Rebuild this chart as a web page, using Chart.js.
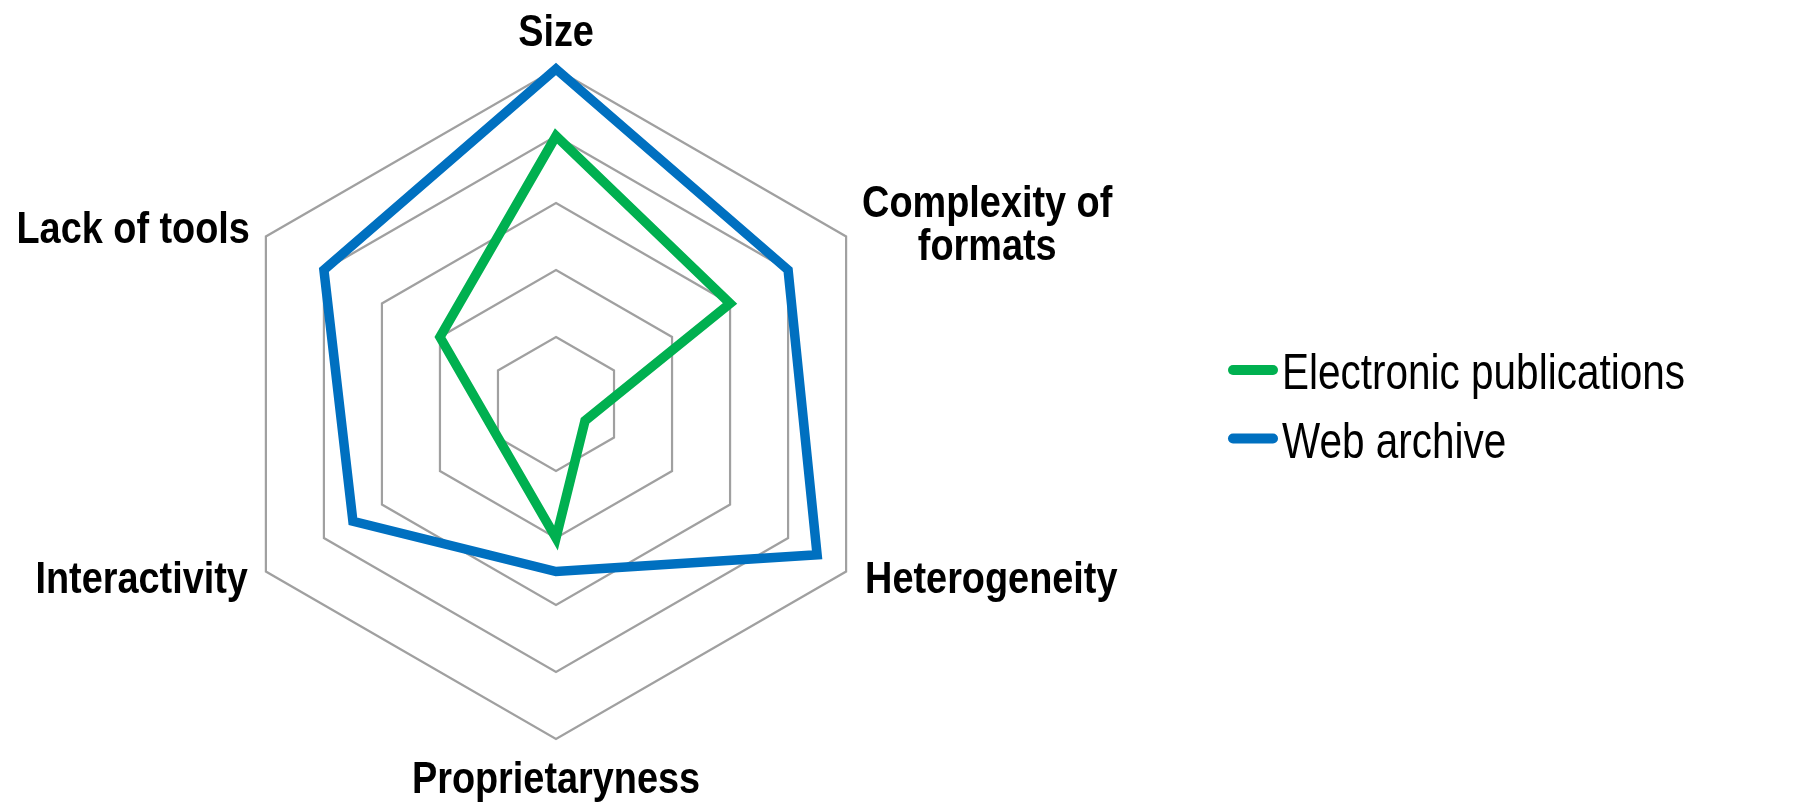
<!DOCTYPE html>
<html>
<head>
<meta charset="utf-8">
<title>Radar chart</title>
<script src="https://cdn.jsdelivr.net/npm/chart.js@4"></script>
<style>
  html, body { margin: 0; padding: 0; background: #ffffff; }
  #wrap { position: relative; width: 1800px; height: 802px; }
</style>
</head>
<body>
<div id="wrap"><canvas id="chart"></canvas></div>
<script>
// Axes of the radar, clockwise from the top
const categories = [
  'Size',
  ['Complexity of', 'formats'],
  'Heterogeneity',
  'Proprietaryness',
  'Interactivity',
  'Lack of tools'
];

// Scores per axis (0 to 5)
const electronicPublications = [4, 3, 0.5, 2, 1, 2];
const webArchive = [5, 4, 4.5, 2.5, 3.5, 4];

const seriesNames = ['Electronic publications', 'Web archive'];
const scaleMin = 0;
const scaleMax = 5;
const scaleStep = 1;

const GREEN = '#00B050';
const BLUE = '#0070C0';
// Condensed sans: regular face squeezed horizontally
const LABEL_FONT = 'bold 44px "Liberation Sans", Arial, sans-serif';
const LABEL_SQUEEZE = 0.86;
const LEGEND_FONT = '50px "Liberation Sans", Arial, sans-serif';
const LEGEND_SQUEEZE = 0.81;

// Where each axis title sits relative to its outer vertex
const labelPlacement = [
  { align: 'center', dx: 0,   dy: -23 },
  { align: 'left',   dx: 16,  dy: -19.8, lineHeight: 43.3 },
  { align: 'left',   dx: 19,  dy: 21.5 },
  { align: 'center', dx: 0,   dy: 54 },
  { align: 'right',  dx: -18, dy: 21.5 },
  { align: 'right',  dx: -16, dy: 6.8 }
];

function squeezedText(ctx, text, x, y, sx) {
  ctx.save();
  ctx.translate(x, y);
  ctx.scale(sx, 1);
  ctx.fillText(text, 0, 0);
  ctx.restore();
}

// Axis titles drawn at the scale's outer vertices
const axisTitles = {
  id: 'axisTitles',
  afterDraw(chart) {
    const scale = chart.scales.r;
    const ctx = chart.ctx;
    ctx.save();
    ctx.font = LABEL_FONT;
    ctx.fillStyle = '#000000';
    ctx.textBaseline = 'alphabetic';
    ctx.textAlign = 'center';
    chart.data.labels.forEach((label, i) => {
      const p = scale.getPointPosition(i, scale.drawingArea);
      const place = labelPlacement[i];
      const lines = Array.isArray(label) ? label : [label];
      const blockW = Math.max(...lines.map(t => ctx.measureText(t).width)) * LABEL_SQUEEZE;
      const lh = place.lineHeight || 44;
      let cx;
      if (place.align === 'left') cx = p.x + place.dx + blockW / 2;
      else if (place.align === 'right') cx = p.x + place.dx - blockW / 2;
      else cx = p.x + place.dx;
      lines.forEach((t, k) => {
        squeezedText(ctx, t, cx, p.y + place.dy + k * lh, LABEL_SQUEEZE);
      });
    });
    ctx.restore();
  }
};

// Legend with short rounded line samples, right of the radar
const lineLegend = {
  id: 'lineLegend',
  afterDraw(chart) {
    const ctx = chart.ctx;
    const x0 = 1228, sampleLen = 50, gap = 4;
    const rows = [370, 438.5];
    ctx.save();
    ctx.font = LEGEND_FONT;
    ctx.textAlign = 'left';
    ctx.textBaseline = 'alphabetic';
    chart.data.datasets.forEach((ds, i) => {
      const y = rows[i];
      ctx.strokeStyle = ds.borderColor;
      ctx.lineWidth = 10;
      ctx.lineCap = 'round';
      ctx.beginPath();
      ctx.moveTo(x0 + 5, y);
      ctx.lineTo(x0 + sampleLen - 5, y);
      ctx.stroke();
      ctx.fillStyle = '#000000';
      squeezedText(ctx, ds.label, x0 + sampleLen + gap, y + 19, LEGEND_SQUEEZE);
    });
    ctx.restore();
  }
};

new Chart(document.getElementById('chart'), {
  type: 'radar',
  data: {
    labels: categories,
    datasets: [
      {
        label: seriesNames[0],
        data: electronicPublications,
        borderColor: GREEN,
        backgroundColor: 'rgba(0,0,0,0)',
        borderWidth: 9.5,
        borderJoinStyle: 'miter',
        fill: false,
        pointRadius: 0,
        pointHoverRadius: 0,
        tension: 0
      },
      {
        label: seriesNames[1],
        data: webArchive,
        borderColor: BLUE,
        backgroundColor: 'rgba(0,0,0,0)',
        borderWidth: 9.5,
        borderJoinStyle: 'miter',
        fill: false,
        pointRadius: 0,
        pointHoverRadius: 0,
        tension: 0
      }
    ]
  },
  options: {
    responsive: true,
    maintainAspectRatio: false,
    animation: false,
    devicePixelRatio: 1,
    layout: { padding: { left: 0, right: 688, top: 69, bottom: 63 } },
    plugins: {
      legend: { display: false },
      tooltip: { enabled: false },
      title: { display: false }
    },
    scales: {
      r: {
        min: scaleMin,
        max: scaleMax,
        ticks: { display: false, stepSize: scaleStep },
        grid: { color: '#A0A0A0', lineWidth: 2.2 },
        angleLines: { display: false },
        pointLabels: { display: false }
      }
    }
  },
  plugins: [axisTitles, lineLegend]
});
</script>
</body>
</html>
